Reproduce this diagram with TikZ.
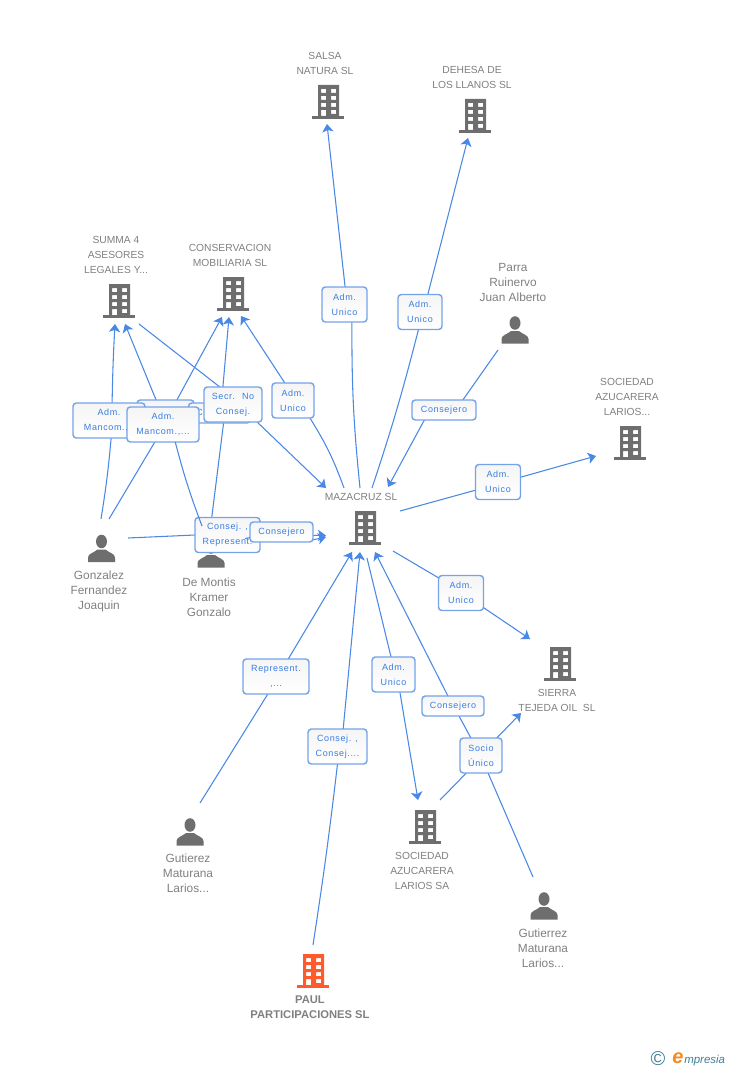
\documentclass[tikz,border=0pt]{standalone}
\usepackage{fontspec}
\setmainfont{Liberation Sans}
\newfontfamily\labfont[LetterSpace=7]{Liberation Sans}
\usetikzlibrary{arrows.meta,backgrounds}
\definecolor{iconGray}{HTML}{6E6E6E}
\definecolor{nameGray}{HTML}{808080}
\definecolor{edgeBlue}{HTML}{4A88E6}
\definecolor{boxBlue}{HTML}{74A3E8}
\definecolor{labBlue}{HTML}{3A7DE0}
\definecolor{paulOrange}{HTML}{FF5A2B}
\definecolor{logoTeal}{HTML}{3F7F96}
\definecolor{logoOrange}{HTML}{F58A1F}
\tikzset{
  x=0.75pt,y=-0.75pt,
  pics/bldg/.style={code={
    \fill[#1,even odd rule] (-10,-17) rectangle (11,14)
      (-7,-13) rectangle (-2,-9) (3,-13) rectangle (8,-9)
      (-7,-6) rectangle (-2,-2) (3,-6) rectangle (8,-2)
      (-7,1) rectangle (-2,5) (3,1) rectangle (8,5)
      (-7,8) rectangle (-2,14) (3,8) rectangle (8,12);
    \fill[#1] (-16,14) rectangle (16,17);
  }},
  pics/bldg/.default=iconGray,
  pics/person/.style={code={
    \fill[iconGray] (0,-7) ellipse (5.5 and 6.8);
    \fill[iconGray] (-13.5,13.5) -- (-13.5,9) .. controls (-13.5,5) and (-7,4) .. (-4,1) -- (4,1) .. controls (7,4) and (13.5,5) .. (13.5,9) -- (13.5,13.5) -- cycle;
  }},
  comp/.style={text=nameGray,align=center,font=\fontsize{7.7}{11.25}\selectfont,inner sep=0pt},
  pers/.style={text=nameGray,align=center,font=\fontsize{8.9}{11.25}\selectfont,inner sep=0pt},
  lab/.style={draw=boxBlue,line width=1.1pt,rounded corners=2.5pt,top color=black!4,bottom color=white,text=labBlue,align=center,
    font=\labfont\fontsize{6.75}{11.25}\selectfont,inner sep=0pt,outer sep=0pt,minimum height=26.25pt},
  lab1/.style={lab,minimum height=15pt},
  edge/.style={draw=edgeBlue,line width=0.8pt},
  tip/.style={edge,-{Stealth[length=6pt,width=8.5pt,inset=1.5pt]}}
}
\begin{document}
\begin{tikzpicture}
\useasboundingbox (0,0) rectangle (728,1070);
\pic at (328,102) {bldg};
\pic at (475,116) {bldg};
\pic at (119,301) {bldg};
\pic at (233,294) {bldg};
\pic at (630,443) {bldg};
\pic at (365,528) {bldg};
\pic at (560,664) {bldg};
\pic at (425,827) {bldg};
\pic at (313,971) {bldg=paulOrange};
\pic at (515,330) {person};
\pic at (101.5,548.5) {person};
\pic at (211,554) {person};
\pic at (190,832) {person};
\pic at (544,906) {person};
\node[comp] (salsa) at (325,63) {SALSA\\NATURA SL};
\node[comp] (dehesa) at (472,77) {DEHESA DE\\LOS LLANOS SL};
\node[comp] (summa) at (116,255) {SUMMA 4\\ASESORES\\LEGALES Y...};
\node[comp] (conserv) at (230,255) {CONSERVACION\\MOBILIARIA SL};
\node[comp] (larios) at (627,397) {SOCIEDAD\\AZUCARERA\\LARIOS...};
\node[comp] (mazacruz) at (361,497) {MAZACRUZ SL};
\node[comp] (sierra) at (557,700) {SIERRA\\TEJEDA OIL~ SL};
\node[comp] (azucarera) at (422,871) {SOCIEDAD\\AZUCARERA\\LARIOS SA};
\node[comp,font=\bfseries\fontsize{8.4}{11.25}\selectfont] (paul) at (310,1007) {PAUL\\PARTICIPACIONES SL};
\node[pers] (parra) at (513,282) {Parra\\Ruinervo\\Juan Alberto};
\node[pers] (gonzalez) at (99,591) {Gonzalez\\Fernandez\\Joaquin};
\node[pers] (montis) at (209,597) {De Montis\\Kramer\\Gonzalo};
\node[pers] (gutierez) at (188,873) {Gutierez\\Maturana\\Larios...};
\node[pers] (gutierrez) at (543,948) {Gutierrez\\Maturana\\Larios...};
% free ends of the connectors
\coordinate (mzSalsa) at (360,488);
\coordinate (mzDehesa) at (372,488);
\coordinate (mzConserv) at (344,488);
\coordinate (mzLarios) at (400,511);
\coordinate (mzSierra) at (393,551);
\coordinate (mzAzuc) at (367,558);
\coordinate (tipSalsa) at (327,124);
\coordinate (tipDehesa) at (468,138);
\coordinate (tipParra) at (388,487);
\coordinate (tipLarios) at (596,456);
\coordinate (tipSierraA) at (530,639);
\coordinate (tipSierraB) at (521,713);
\coordinate (tipAzuc) at (418,800);
\coordinate (tipRep) at (352,552);
\coordinate (tipConsej) at (360,552);
\coordinate (tipConsejero) at (375,552);
\coordinate (tipConsA) at (222,317);
\coordinate (tipConsB) at (229,317);
\coordinate (tipConsC) at (241,316);
\coordinate (tipSumA) at (115,324);
\coordinate (tipSumB) at (125,324);
\coordinate (tipMzA) at (326,488);
\coordinate (tipMzB) at (326,535.5);
\coordinate (tipMzC) at (326,537);
\coordinate (frParra) at (498,350);
\coordinate (frAzuc) at (440,800);
\coordinate (frGutierrez) at (533,877);
\coordinate (frGutierez) at (200,803);
\coordinate (frPaul) at (313,945);
\coordinate (frSumma) at (139,324);
\coordinate (frGonzA) at (101,519);
\coordinate (frGonzB) at (109,519);
\coordinate (frGonzC) at (128,538);
\coordinate (frMontisA) at (202,526);
\coordinate (frMontisB) at (245,538.5);
% boxes, the later ones over the earlier ones
\node[lab,minimum width=33.75pt] (lbSalsa) at (344.5,304.5) {Adm.\\Unico};
\node[lab,minimum width=33pt] (lbDehesa) at (420,312) {Adm.\\Unico};
\node[lab1,minimum width=48pt] (lbParra) at (444,410) {Consejero};
\node[lab,minimum width=33.75pt] (lbLarios) at (498,482) {Adm.\\Unico};
\node[lab,minimum width=33.75pt] (lbSierra) at (461,593) {Adm.\\Unico};
\node[lab,minimum width=32.25pt] (lbAzuc) at (393.5,674.5) {Adm.\\Unico};
\node[lab1,minimum width=46.5pt] (lbConsejero) at (453,706) {Consejero};
\node[lab,minimum width=31.5pt] (lbSocio) at (481,755.5) {Socio\\Único};
\node[lab,minimum width=44.25pt] (lbConsej) at (337.5,746.5) {Consej. ,\\Consej....};
\node[lab,minimum width=49.5pt] (lbRep) at (276,676.5) {Represent.\\,...};
\node[lab,minimum width=31.5pt] (lbConserv) at (293,400.5) {Adm.\\Unico};
\node[lab,minimum width=42.75pt] (lbBack) at (165.5,417.5) {};
\node[lab1,minimum width=46.5pt] (lbBackC) at (219.5,413) {Consejero};
\node[lab,minimum width=54pt] (lbMancA) at (109,420.5) {Adm.\\Mancom.,..};
\node[lab,minimum width=54pt] (lbMancB) at (163,424.5) {Adm.\\Mancom.,...};
\node[lab,minimum width=43.5pt] (lbSecr) at (233,404.5) {Secr.~ No\\Consej.};
\node[lab,minimum width=48.75pt] (lbRepr) at (227.5,535) {Consej. ,\\Represent.};
\node[lab1,minimum width=47.25pt] (lbMontis) at (281.5,532) {Consejero};
\begin{scope}[on background layer]
\draw[edge] (mzSalsa) to[bend left=3] (lbSalsa.-67);
\draw[tip] (lbSalsa.88) -- (tipSalsa);
\draw[edge] (mzDehesa) to[bend right=2] (lbDehesa.-95);
\draw[tip] (lbDehesa.66) -- (tipDehesa);
\draw[edge] (frParra) -- (lbParra.28);
\draw[tip] (lbParra.-153) -- (tipParra);
\draw[edge] (mzLarios) -- (lbLarios.-160);
\draw[tip] (lbLarios.12) -- (tipLarios);
\draw[edge] (mzSierra) -- (lbSierra.146);
\draw[tip] (lbSierra.-33) -- (tipSierraA);
\draw[edge] (mzAzuc) -- (lbAzuc.98);
\draw[tip] (lbAzuc.-70) -- (tipAzuc);
\draw[tip] (lbConsejero.117) -- (tipConsejero);
\draw[edge] (lbSocio.120) -- (lbConsejero.-59);
\draw[edge] (frGutierrez) -- (lbSocio.-68);
\draw[edge] (frAzuc) -- (lbSocio.-130);
\draw[tip] (lbSocio.48) -- (tipSierraB);
\draw[edge] (frPaul) to[bend right=1] (lbConsej.-90);
\draw[tip] (lbConsej.72) -- (tipConsej);
\draw[edge] (frGutierez) -- (lbRep.-115);
\draw[tip] (lbRep.55) -- (tipRep);
\draw[edge] (mzConserv) to[bend right=6] (lbConserv.-46);
\draw[tip] (lbConserv.115) -- (tipConsC);
\draw[edge] (frSumma) -- (lbSecr.127);
\draw[tip] (lbSecr.-36) -- (tipMzA);
\draw[edge] (lbRepr.132) -- (lbSecr.-118);
\draw[tip] (lbSecr.120) -- (tipConsB);
\draw[edge] (frGonzA) to[bend right=2] (lbMancA.-83);
\draw[tip] (lbMancA.80) to[bend left=1] (tipSumA);
\draw[tip] (lbMancB.103) -- (tipSumB);
\draw[edge] (frGonzB) -- (lbMancB.-115);
\draw[tip] (lbBack.57) -- (tipConsA);
\draw[edge] (frGonzC) -- (lbRepr.180);
\draw[tip] (lbRepr.east) -- (tipMzB);
\draw[tip] (lbMontis.-14) -- (tipMzC);
\end{scope}
% these two lie over the box they end in
\draw[edge] (frMontisA) to[bend left=3] (lbMancB.-55);
\draw[edge] (frMontisB) -- (lbMontis);
% logo
\node[text=logoTeal,font=\fontsize{15}{15}\selectfont,inner sep=0pt] (logoC) at (658,1058.5) {©};
\node[text=logoOrange,font=\itshape\bfseries\fontsize{15}{15}\selectfont,inner sep=0pt] (logoE) at (678,1058) {e};
\node[text=logoTeal,font=\itshape\fontsize{8.6}{11}\selectfont,inner sep=0pt,anchor=base west] (logoM) at (684,1063) {mpresia};
\end{tikzpicture}
\end{document}
